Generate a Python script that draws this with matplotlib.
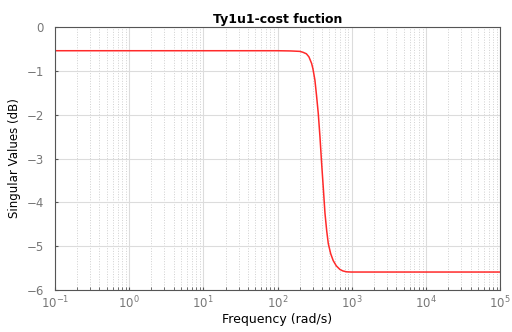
import matplotlib
matplotlib.use("Agg")
import matplotlib.pyplot as plt
from matplotlib.ticker import LogLocator, NullFormatter

freq = [0.1, 100, 150, 200, 220, 245, 265, 288, 300, 319, 335, 354, 373, 393, 415, 436, 460, 483,
        520, 563, 620, 692, 760, 850, 980, 2000, 1e5]
sv_db = [-0.54, -0.54, -0.545, -0.555, -0.575, -0.61, -0.68, -0.83, -0.95, -1.21, -1.55, -1.97, -2.5,
         -3.11, -3.7, -4.25, -4.65, -4.94, -5.17, -5.33, -5.45, -5.53, -5.565, -5.585, -5.59, -5.59, -5.59]
yticks = [0, -1, -2, -3, -4, -5, -6]
xticks = [1e-1, 1e0, 1e1, 1e2, 1e3, 1e4, 1e5]

fig = plt.figure(figsize=(5.12, 3.32), dpi=100)
ax = fig.add_axes([0.107, 0.1265, 0.870, 0.792])
ax.semilogx(freq, sv_db, color='#ff2a2a', lw=1.1)
ax.set_xlim(1e-1, 1e5)
ax.set_ylim(-6, 0)
ax.set_yticks(yticks)
ax.set_xticks(xticks)
ax.xaxis.set_minor_locator(LogLocator(base=10, subs=range(2, 10), numticks=100))
ax.xaxis.set_minor_formatter(NullFormatter())
ax.grid(True, which='major', color='#dcdcdc', lw=0.8)
ax.grid(True, which='minor', axis='x', color='#d0d0d0', ls=':', lw=0.7)
ax.set_axisbelow(True)
ax.tick_params(which='both', direction='in', colors='#555555', labelsize=8.5, length=2,
               labelcolor='#777777')
ax.tick_params(axis='y', pad=8)
for s in ax.spines.values():
    s.set_color('#555555')
    s.set_linewidth(0.8)
ax.set_title('Ty1u1-cost fuction', fontsize=9, fontweight='bold', pad=3)
ax.set_xlabel('Frequency (rad/s)', fontsize=9, labelpad=1)
ax.set_ylabel('Singular Values (dB)', fontsize=8.5, labelpad=4)
fig.savefig('out.png', dpi=100)
